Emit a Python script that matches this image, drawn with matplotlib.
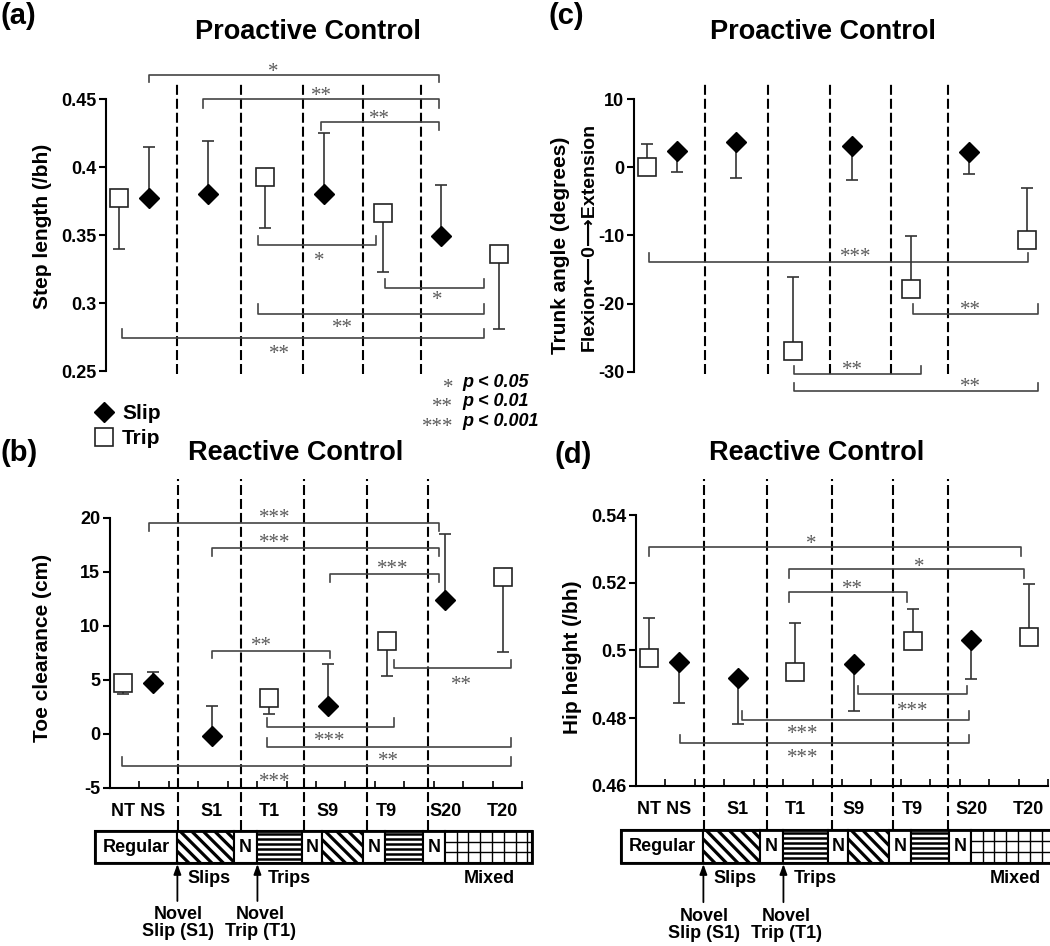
import matplotlib
matplotlib.use('Agg')
import matplotlib.pyplot as plt
from matplotlib.patches import Rectangle
import numpy as np

plt.rcParams['font.family'] = ['Liberation Sans', 'DejaVu Sans']
plt.rcParams['font.weight'] = 'bold'

W, H = 1050, 946

categories = ['NT', 'NS', 'S1', 'T1', 'S9', 'T9', 'S20', 'T20']
is_slip = [False, True, True, False, True, False, True, False]

step_mean = [0.377, 0.377, 0.380, 0.393, 0.380, 0.366, 0.349, 0.336]
step_sd = [0.037, 0.038, 0.039, 0.038, 0.045, 0.043, 0.038, 0.055]
toe_mean = [4.70, 4.67, -0.20, 3.27, 2.57, 8.58, 12.35, 14.48]
toe_sd = [1.05, 1.07, 2.77, 1.47, 3.93, 3.24, 6.15, 6.88]
trunk_mean = [0.0, 2.4, 3.8, -26.9, 3.1, -17.9, 2.3, -10.6]
trunk_sd = [3.4, 3.1, 5.3, 10.8, 4.9, 7.8, 3.2, 7.6]
hip_mean = [0.4976, 0.4965, 0.4919, 0.4937, 0.4960, 0.5028, 0.5031, 0.5040]
hip_sd = [0.0120, 0.0120, 0.0137, 0.0143, 0.0138, 0.0095, 0.0115, 0.0156]

# significance brackets: (from, to, y, tick end, stars, label x, label y)
step_sig = [
    (1.46, 11.33, 0.4676, 0.4622, '*', 5.67, 0.4738),
    (3.30, 11.33, 0.4500, 0.4434, '**', 7.31, 0.4561),
    (7.31, 11.33, 0.4333, 0.4272, '**', 9.29, 0.4390),
    (5.16, 9.17, 0.3426, 0.3493, '*', 7.24, 0.3346),
    (9.48, 12.84, 0.3110, 0.3176, '*', 11.25, 0.3059),
    (5.16, 12.84, 0.2919, 0.2993, '**', 8.05, 0.2853),
    (0.54, 12.84, 0.2743, 0.2809, '**', 5.88, 0.2662),
]
toe_sig = [
    (1.33, 11.19, 19.54, 18.77, '***', 5.61, 20.46),
    (3.47, 11.19, 17.16, 16.45, '***', 5.61, 18.12),
    (7.48, 11.19, 14.80, 14.08, '***', 9.62, 15.71),
    (3.47, 7.48, 7.66, 6.98, '**', 5.16, 8.61),
    (9.65, 13.63, 6.06, 6.83, '**', 11.93, 5.04),
    (5.33, 9.65, 0.65, 1.43, '***', 7.48, -0.21),
    (5.33, 13.63, -1.20, -0.43, '**', 9.45, -2.06),
    (0.41, 13.63, -2.99, -2.20, '***', 5.61, -3.98),
]
trunk_sig = [
    (0.51, 13.39, -13.9, -12.6, '***', 7.54, -12.4),
    (9.47, 13.73, -21.5, -20.1, '**', 11.42, -20.1),
    (5.44, 9.75, -30.4, -29.2, '**', 7.44, -28.9),
    (5.44, 13.73, -32.9, -31.7, '**', 11.42, -31.4),
]
hip_sig = [
    (0.45, 13.08, 0.5304, 0.5279, '*', 5.94, 0.5331),
    (5.20, 13.18, 0.5240, 0.5213, '*', 9.62, 0.5262),
    (5.20, 9.21, 0.5172, 0.5144, '**', 7.36, 0.5196),
    (7.54, 11.24, 0.4870, 0.4896, '***', 9.41, 0.4836),
    (3.61, 11.33, 0.4794, 0.4822, '***', 5.67, 0.4768),
    (1.50, 11.33, 0.4725, 0.4750, '***', 5.67, 0.4699),
]

p_stars = ['*', '**', '***']
p_texts = ['p < 0.05', 'p < 0.01', 'p < 0.001']

# protocol strip under the reactive panels
seg_edges = [-0.5, 2.29, 4.2, 5.01, 6.52, 7.22, 8.6, 9.35, 10.65, 11.38, 14.33]
seg_fill = ['', 'diag', '', 'horiz', '', 'diag', '', 'horiz', '', 'grid']
seg_text = ['Regular', '', 'N', '', 'N', '', 'N', '', 'N', '']

xpos = np.array([0.45, 1.47, 3.45, 5.4, 7.4, 9.4, 11.4, 13.35])
UNIT = 412 / 14.0   # pixels per x unit


def fx(px):
    return px / W


def fy(py):
    return 1 - py / H


def add_ax(fig, left, top, bottom, width=412):
    return fig.add_axes([fx(left), fy(bottom), width / W, (bottom - top) / H])


def draw_panel(ax, mean, sd, slip_up, sig, ylim, yticks, seps, sep_span, xaxis):
    mean = np.array(mean)
    sd = np.array(sd)
    slip = np.array(is_slip)
    upper = np.where(slip == slip_up, sd, 0.0)
    lower = np.where(slip == slip_up, 0.0, sd)

    for x in seps:
        ax.plot([x, x], sep_span, transform=ax.get_xaxis_transform(), color='black',
                lw=1.5, ls=(0, (4.8, 1.9)), clip_on=False, zorder=1)

    for (x1, x2, y, yend, stars, lx, ly) in sig:
        ax.plot([x1, x1, x2, x2], [yend, y, y, yend], color='#444444', lw=1.2,
                clip_on=False, zorder=1)
        ax.annotate(stars, (lx, ly), xytext=(0, -7.5), textcoords='offset points',
                    ha='center', va='baseline', fontfamily='Liberation Serif',
                    fontweight='normal', fontsize=15, color='#5a5a5a',
                    annotation_clip=False)

    ax.errorbar(xpos, mean, yerr=[lower, upper], fmt='none', ecolor='#333333',
                elinewidth=1.2, capsize=4, capthick=1.2, zorder=2, clip_on=False)
    trip_line, = ax.plot(xpos[~slip], mean[~slip], 's', ms=12.3, mfc='white',
                         mec='#222222', mew=1.2, zorder=3, clip_on=False)
    slip_line, = ax.plot(xpos[slip], mean[slip], 'D', ms=9.8, mfc='black',
                         mec='black', mew=1, zorder=3, clip_on=False)

    ax.set_xlim(0, 14)
    ax.set_ylim(*ylim)
    ax.patch.set_visible(False)
    for s in ['top', 'right']:
        ax.spines[s].set_visible(False)
    ax.spines['left'].set_linewidth(1.5)
    ax.spines['left'].set_bounds(*ylim)
    ax.set_yticks(yticks, [('%g' % t) for t in yticks])
    ax.tick_params(axis='y', direction='out', length=5, width=1.5, labelsize=13, pad=2)
    if xaxis:
        ax.spines['bottom'].set_linewidth(1.5)
        labels = [categories[0] + ' ' + categories[1]] + categories[2:]
        label_x = [xpos[:2].mean()] + list(xpos[2:])
        ax.set_xticks(label_x, labels)
        ax.tick_params(axis='x', which='major', length=0, labelsize=13, pad=11)
        ax.set_xticks(np.arange(1, 15), minor=True)
        ax.tick_params(axis='x', which='minor', direction='in', length=5, width=1.2)
    else:
        ax.spines['bottom'].set_visible(False)
        ax.set_xticks([])
    return slip_line, trip_line


def draw_protocol(bax):
    bax.set_xlim(0, 14)
    bax.set_ylim(32, 0)
    bax.axis('off')
    for i in range(len(seg_edges) - 1):
        x0, x1 = seg_edges[i], seg_edges[i + 1]
        kind = seg_fill[i]
        rect = Rectangle((x0, 0), x1 - x0, 32, facecolor='white', edgecolor='black',
                         lw=1.5, clip_on=False, zorder=1)
        bax.add_patch(rect)
        if seg_text[i]:
            bax.text((x0 + x1) / 2, 16, seg_text[i], ha='center', va='center', fontsize=13)
        if kind == 'diag':
            # 45 degree stripes going down to the right
            step = 11.5 / UNIT
            run = 32 / UNIT
            for s in np.arange(x0 - run, x1 + step, step):
                ln, = bax.plot([s, s + run], [0, 32], color='black', lw=2.3, zorder=2)
                ln.set_clip_path(rect)
        elif kind == 'horiz':
            for yy in np.arange(2.5, 32, 5):
                ln, = bax.plot([x0, x1], [yy, yy], color='black', lw=1.8, zorder=2)
                ln.set_clip_path(rect)
        elif kind == 'grid':
            bax.vlines(np.arange(x0 + 0.4, x1, 0.4), 0, 32, color='black', lw=1,
                       clip_on=False, zorder=2)
            bax.hlines([10.7, 21.3], x0, x1, color='black', lw=1, clip_on=False, zorder=2)
    bax.add_patch(Rectangle((seg_edges[0], 0), seg_edges[-1] - seg_edges[0], 32, fill=False,
                            edgecolor='black', lw=2, clip_on=False, zorder=3))

    bax.text(3.38, 47, 'Slips', ha='center', va='center', fontsize=13)
    bax.text(6.1, 47, 'Trips', ha='center', va='center', fontsize=13)
    bax.text(12.9, 47, 'Mixed', ha='center', va='center', fontsize=13)
    for x in [seg_edges[1], seg_edges[3]]:
        bax.annotate('', xy=(x, 33), xytext=(x, 70), annotation_clip=False,
                     arrowprops=dict(arrowstyle='-|>,head_length=0.6,head_width=0.22',
                                     lw=1.3, color='black', shrinkA=0, shrinkB=0))
    bax.text(2.31, 92, 'Novel\nSlip (S1)', ha='center', va='center', fontsize=13,
             linespacing=1.05)
    bax.text(5.1, 92, 'Novel\nTrip (T1)', ha='center', va='center', fontsize=13,
             linespacing=1.05)


fig = plt.figure(figsize=(10.5, 9.46), dpi=100)

ax_a = add_ax(fig, 106, 99, 371)
ax_b = add_ax(fig, 110, 517.7, 787.7)
ax_c = add_ax(fig, 634, 99.3, 371.7)
ax_d = add_ax(fig, 636, 515, 785.7)

slip_line, trip_line = draw_panel(ax_a, step_mean, step_sd, True, step_sig, (0.25, 0.45),
                                  [0.25, 0.3, 0.35, 0.4, 0.45],
                                  [2.4, 4.6, 6.7, 8.74, 10.7], [-0.011, 1.0625], False)
draw_panel(ax_b, toe_mean, toe_sd, True, toe_sig, (-5, 20), [-5, 0, 5, 10, 15, 20],
           [2.3, 4.45, 6.6, 8.74, 10.8], [-0.156, 1.143], True)
draw_panel(ax_c, trunk_mean, trunk_sd, False, trunk_sig, (-30, 10), [-30, -20, -10, 0, 10],
           [2.4, 4.55, 6.67, 8.74, 10.68], [-0.008, 1.064], False)
draw_panel(ax_d, hip_mean, hip_sd, False, hip_sig, (0.46, 0.54),
           [0.46, 0.48, 0.5, 0.52, 0.54],
           [2.32, 4.46, 6.67, 8.74, 10.61], [-0.164, 1.133], True)

draw_protocol(fig.add_axes([fx(110), fy(863), 412 / W, 32 / H]))
draw_protocol(fig.add_axes([fx(636), fy(863), 412 / W, 33 / H]))

# titles, panel letters, axis labels
fig.text(fx(308), fy(32), 'Proactive Control', ha='center', va='center', fontsize=19.5)
fig.text(fx(823), fy(32), 'Proactive Control', ha='center', va='center', fontsize=19.5)
fig.text(fx(296), fy(453), 'Reactive Control', ha='center', va='center', fontsize=19.5)
fig.text(fx(817), fy(453), 'Reactive Control', ha='center', va='center', fontsize=19.5)
fig.text(fx(0), fy(16), '(a)', ha='left', va='center', fontsize=21)
fig.text(fx(548), fy(16), '(c)', ha='left', va='center', fontsize=21)
fig.text(fx(0), fy(453), '(b)', ha='left', va='center', fontsize=21)
fig.text(fx(555), fy(455), '(d)', ha='left', va='center', fontsize=21)

fig.text(fx(43), fy(226), 'Step length (/bh)', rotation=90, ha='center', va='center', fontsize=15)
fig.text(fx(43), fy(648), 'Toe clearance (cm)', rotation=90, ha='center', va='center', fontsize=15)
fig.text(fx(560), fy(245), 'Trunk angle (degrees)', rotation=90, ha='center', va='center', fontsize=15)
fig.text(fx(589), fy(237), 'Flexion\u27f50\u27f6Extension', rotation=90, ha='center', va='center',
         fontsize=14)
fig.text(fx(572), fy(657), 'Hip height (/bh)', rotation=90, ha='center', va='center', fontsize=15)

fig.legend([slip_line, trip_line], ['Slip', 'Trip'], loc='center left',
           bbox_to_anchor=(fx(94), fy(426)), frameon=False, borderpad=0, borderaxespad=0,
           handlelength=1.0, handletextpad=0.35, labelspacing=0.3,
           prop={'size': 15, 'weight': 'bold'})

for i in range(3):
    base = [387, 406, 426][i]
    fig.text(fx(453), fy(base - 4.5 + 10.4), p_stars[i], ha='right', va='baseline',
             fontfamily='Liberation Serif', fontweight='normal', fontsize=15, color='#5a5a5a')
    fig.text(fx(462), fy(base), p_texts[i], ha='left', va='baseline', fontsize=13,
             fontstyle='italic')

fig.savefig('out.png', dpi=100)
